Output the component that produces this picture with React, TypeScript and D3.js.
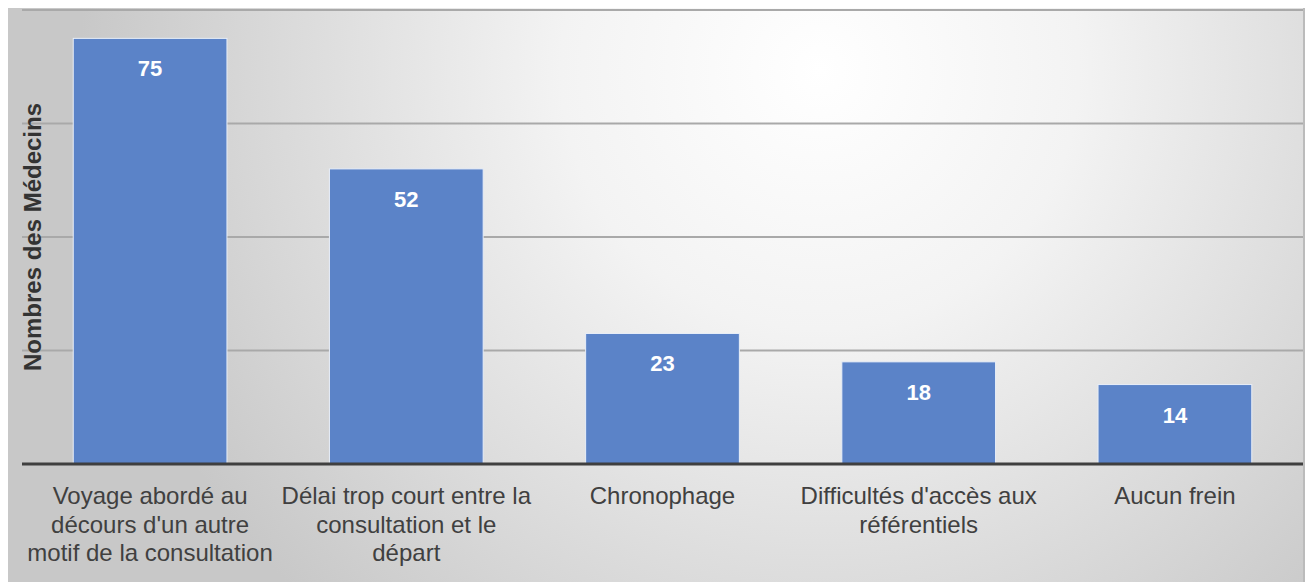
import React from 'react';
import * as d3 from 'd3';

const categories = [
  ["Voyage abordé au", "décours d'un autre", "motif de la consultation"],
  ["Délai trop court entre la", "consultation et le", "départ"],
  ["Chronophage"],
  ["Difficultés d'accès aux", "référentiels"],
  ["Aucun frein"],
];
const values = [75, 52, 23, 18, 14];
const yTicks = [0, 20, 40, 60, 80];
const yTitle = "Nombres des Médecins";

const W = 1311;
const H = 582;
const font = "'Liberation Sans', Arial, Helvetica, sans-serif";

export default function App() {
  const x = d3.scaleBand<number>()
    .domain(values.map((_, i) => i))
    .range([22, 1303])
    .paddingInner(0.4)
    .paddingOuter(0.2);

  const y = d3.scaleLinear().domain([0, 80]).range([464, 10]);

  return (
    <svg width={W} height={H} style={{ position: 'absolute', left: 0, top: 0 }}>
      <defs>
        <radialGradient id="bg" gradientUnits="userSpaceOnUse" cx={820} cy={70} r={740}>
          <stop offset="0" stopColor="#ffffff" />
          <stop offset="0.35" stopColor="#f3f3f3" />
          <stop offset="1" stopColor="#c8c8c8" />
        </radialGradient>
      </defs>
      <rect x={8} y={8} width={1297} height={H - 8} fill="url(#bg)" />
      <line x1={1304} x2={1304} y1={8} y2={H} stroke="#bbbbbb" strokeWidth={2} />

      {yTicks.slice(1).map(t => (
        <line key={t} x1={22} x2={1303} y1={y(t)} y2={y(t)} stroke="#a9a9a9" strokeWidth={2} />
      ))}

      {values.map((v, i) => (
        <g key={i}>
          <rect
            x={x(i)}
            y={y(v)}
            width={x.bandwidth()}
            height={y(0) - y(v)}
            fill="#5b83c8"
            stroke="#e8eef8"
            strokeWidth={1}
          />
          <text
            x={(x(i) as number) + x.bandwidth() / 2}
            y={y(v) + 38}
            textAnchor="middle"
            fill="#ffffff"
            fontFamily={font}
            fontWeight="bold"
            fontSize={22}
          >{v}</text>
        </g>
      ))}

      <line x1={22} x2={1303} y1={y(0)} y2={y(0)} stroke="#3f3f3f" strokeWidth={3} />

      {categories.map((lines, i) => (
        <text
          key={i}
          textAnchor="middle"
          fill="#404040"
          fontFamily={font}
          fontSize={24}
        >
          {lines.map((l, j) => (
            <tspan key={j} x={(x(i) as number) + x.bandwidth() / 2} y={504 + j * 28.5}>{l}</tspan>
          ))}
        </text>
      ))}

      <text
        transform={`translate(41, ${y(40)}) rotate(-90)`}
        textAnchor="middle"
        fill="#333333"
        fontFamily={font}
        fontWeight="bold"
        fontSize={24}
      >{yTitle}</text>
    </svg>
  );
}
